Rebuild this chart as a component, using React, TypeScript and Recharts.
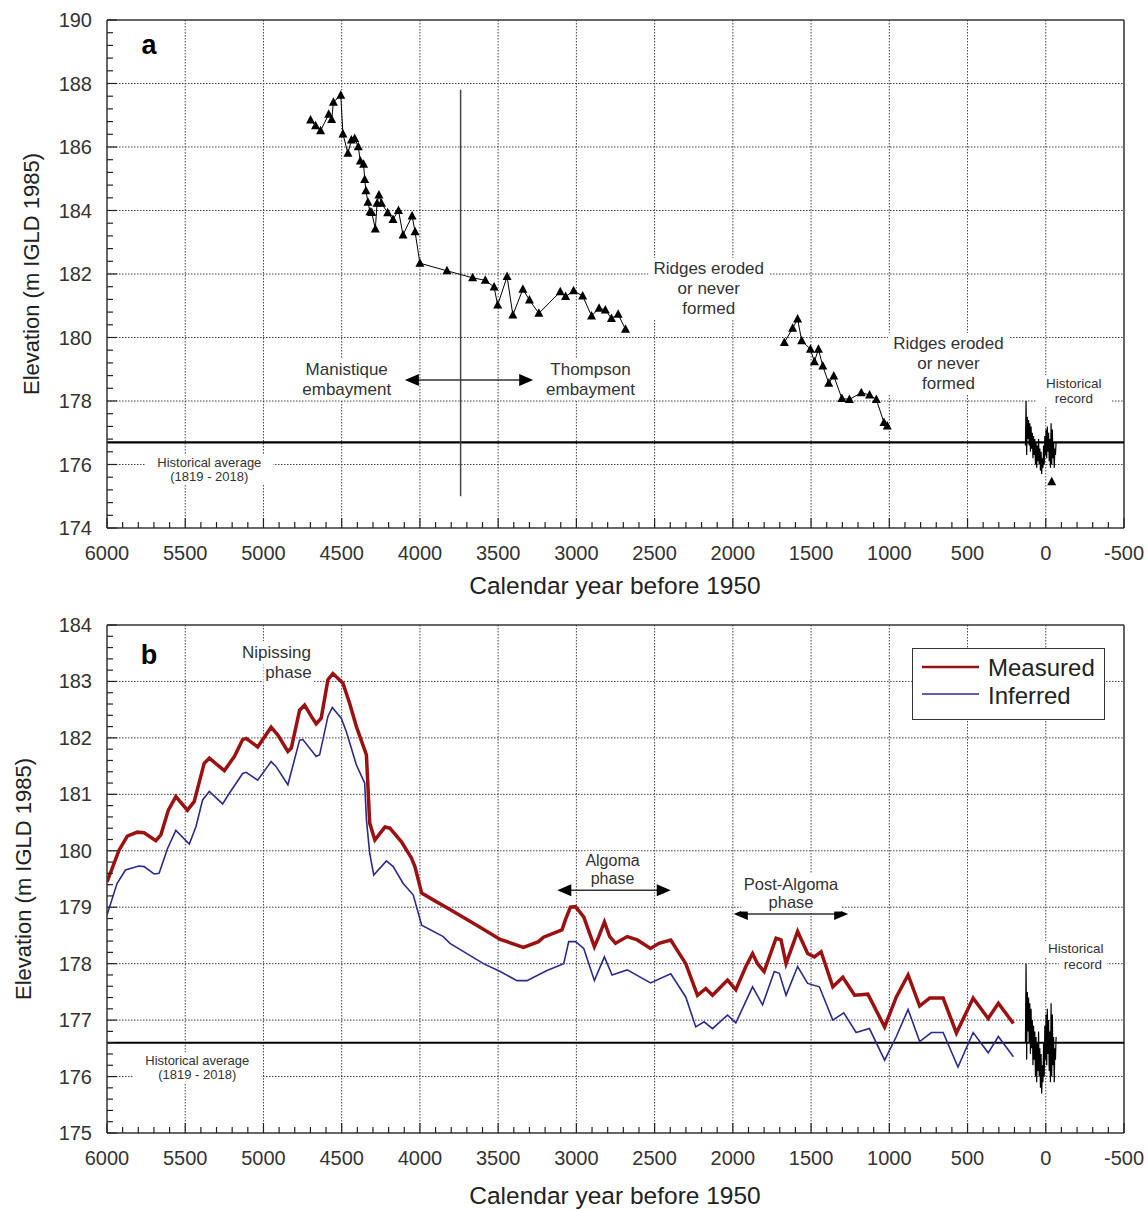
import React from "react";
import { ComposedChart, Line, XAxis, YAxis, CartesianGrid, ReferenceLine, ReferenceDot, Legend } from "recharts";

const FONT = "'Liberation Sans', Arial, Helvetica, sans-serif";

// ---- axis ticks ----
const yearGrid = [5500, 5000, 4500, 4000, 3500, 3000, 2500, 2000, 1500, 1000, 500, 0];
const yearMinor = Array.from({ length: 66 }, (_, i) => 6000 - i * 100);
const elevGridA = [176, 178, 180, 182, 184, 186, 188];
const elevMinorA = Array.from({ length: 41 }, (_, i) => +(174 + i * 0.4).toFixed(1));
const elevGridB = [176, 177, 178, 179, 180, 181, 182, 183];
const elevMinorB = Array.from({ length: 46 }, (_, i) => +(175 + i * 0.2).toFixed(1));

// ---- panel a: beach ridge elevations ----
const ridgesEast = [
  { year: 4699, elev: 186.85 }, { year: 4667, elev: 186.67 }, { year: 4635, elev: 186.51 },
  { year: 4583, elev: 187.03 }, { year: 4564, elev: 186.87 }, { year: 4553, elev: 187.41 },
  { year: 4506, elev: 187.63 }, { year: 4492, elev: 186.41 }, { year: 4460, elev: 185.8 },
  { year: 4438, elev: 186.22 }, { year: 4417, elev: 186.27 }, { year: 4394, elev: 186.01 },
  { year: 4381, elev: 185.56 }, { year: 4360, elev: 185.46 }, { year: 4353, elev: 184.98 },
  { year: 4345, elev: 184.62 }, { year: 4332, elev: 184.26 }, { year: 4319, elev: 183.96 },
  { year: 4308, elev: 183.94 }, { year: 4285, elev: 183.42 }, { year: 4274, elev: 184.23 },
  { year: 4262, elev: 184.49 }, { year: 4246, elev: 184.23 }, { year: 4206, elev: 183.93 },
  { year: 4172, elev: 183.72 }, { year: 4137, elev: 184.0 }, { year: 4108, elev: 183.23 },
  { year: 4050, elev: 183.83 }, { year: 4031, elev: 183.33 }, { year: 4000, elev: 182.34 },
  { year: 3827, elev: 182.1 }, { year: 3663, elev: 181.88 }, { year: 3582, elev: 181.8 },
  { year: 3526, elev: 181.59 }, { year: 3503, elev: 181.02 }, { year: 3443, elev: 181.92 },
  { year: 3406, elev: 180.71 }, { year: 3342, elev: 181.52 }, { year: 3300, elev: 181.18 },
  { year: 3240, elev: 180.76 }, { year: 3103, elev: 181.44 }, { year: 3069, elev: 181.29 },
  { year: 3018, elev: 181.47 }, { year: 2960, elev: 181.31 }, { year: 2903, elev: 180.68 },
  { year: 2855, elev: 180.92 }, { year: 2815, elev: 180.87 }, { year: 2776, elev: 180.6 },
  { year: 2733, elev: 180.73 }, { year: 2686, elev: 180.26 },
];

const ridgesWest = [
  { year: 1671, elev: 179.84 }, { year: 1618, elev: 180.29 }, { year: 1586, elev: 180.58 },
  { year: 1560, elev: 179.9 }, { year: 1504, elev: 179.63 }, { year: 1479, elev: 179.24 },
  { year: 1453, elev: 179.63 }, { year: 1425, elev: 179.1 }, { year: 1387, elev: 178.56 },
  { year: 1355, elev: 178.79 }, { year: 1303, elev: 178.08 }, { year: 1255, elev: 178.05 },
  { year: 1179, elev: 178.26 }, { year: 1126, elev: 178.19 }, { year: 1083, elev: 178.05 },
  { year: 1034, elev: 177.32 }, { year: 1013, elev: 177.21 },
];

const ridgeLow = [{ year: -38, elev: 175.46 }];

// ---- historical gauge record (1819 - 2018) ----
const historical = [
  { year: 130, elev: 176.6 }, { year: 126, elev: 178.0 }, { year: 122, elev: 176.3 }, { year: 118, elev: 177.5 },
  { year: 114, elev: 176.8 }, { year: 110, elev: 177.4 }, { year: 106, elev: 176.6 }, { year: 102, elev: 177.3 },
  { year: 98, elev: 176.4 }, { year: 94, elev: 177.2 }, { year: 90, elev: 176.5 }, { year: 86, elev: 177.0 },
  { year: 82, elev: 176.2 }, { year: 78, elev: 176.9 }, { year: 74, elev: 176.3 }, { year: 70, elev: 176.8 },
  { year: 66, elev: 176.0 }, { year: 62, elev: 176.7 }, { year: 58, elev: 175.9 }, { year: 54, elev: 176.6 },
  { year: 50, elev: 176.1 }, { year: 46, elev: 176.8 }, { year: 42, elev: 176.0 }, { year: 38, elev: 176.5 },
  { year: 34, elev: 175.8 }, { year: 30, elev: 176.4 }, { year: 26, elev: 175.7 }, { year: 22, elev: 176.2 },
  { year: 18, elev: 175.9 }, { year: 14, elev: 176.6 }, { year: 10, elev: 176.0 }, { year: 6, elev: 176.9 },
  { year: 2, elev: 176.3 }, { year: -2, elev: 177.1 }, { year: -6, elev: 176.2 }, { year: -10, elev: 177.2 },
  { year: -14, elev: 176.4 }, { year: -18, elev: 177.0 }, { year: -22, elev: 176.1 }, { year: -26, elev: 176.8 },
  { year: -30, elev: 175.9 }, { year: -34, elev: 177.3 }, { year: -38, elev: 176.0 }, { year: -42, elev: 177.1 },
  { year: -46, elev: 176.2 }, { year: -50, elev: 176.7 }, { year: -54, elev: 175.9 }, { year: -58, elev: 176.5 },
  { year: -62, elev: 176.3 }, { year: -66, elev: 176.7 },
];

// ---- panel b: reconstructed hydrograph ----
const measured = [
  { year: 6000, elev: 179.45 }, { year: 5923, elev: 180.01 }, { year: 5870, elev: 180.26 }, { year: 5806, elev: 180.33 },
  { year: 5763, elev: 180.32 }, { year: 5688, elev: 180.18 }, { year: 5656, elev: 180.28 }, { year: 5608, elev: 180.72 },
  { year: 5560, elev: 180.96 }, { year: 5486, elev: 180.72 }, { year: 5443, elev: 180.87 }, { year: 5379, elev: 181.55 },
  { year: 5346, elev: 181.64 }, { year: 5250, elev: 181.42 }, { year: 5186, elev: 181.67 }, { year: 5133, elev: 181.97 },
  { year: 5111, elev: 181.99 }, { year: 5037, elev: 181.84 }, { year: 4951, elev: 182.19 }, { year: 4908, elev: 182.05 },
  { year: 4844, elev: 181.76 }, { year: 4822, elev: 181.82 }, { year: 4769, elev: 182.49 }, { year: 4737, elev: 182.58 },
  { year: 4694, elev: 182.38 }, { year: 4663, elev: 182.25 }, { year: 4631, elev: 182.35 }, { year: 4588, elev: 183.03 },
  { year: 4556, elev: 183.14 }, { year: 4492, elev: 182.97 }, { year: 4449, elev: 182.61 }, { year: 4406, elev: 182.2 },
  { year: 4342, elev: 181.7 }, { year: 4321, elev: 180.49 }, { year: 4288, elev: 180.19 }, { year: 4224, elev: 180.42 },
  { year: 4192, elev: 180.4 }, { year: 4118, elev: 180.16 }, { year: 4054, elev: 179.87 }, { year: 4032, elev: 179.72 },
  { year: 3989, elev: 179.25 }, { year: 3915, elev: 179.13 }, { year: 3808, elev: 178.96 }, { year: 3637, elev: 178.68 },
  { year: 3487, elev: 178.43 }, { year: 3338, elev: 178.29 }, { year: 3242, elev: 178.39 }, { year: 3210, elev: 178.47 },
  { year: 3092, elev: 178.6 }, { year: 3071, elev: 178.77 }, { year: 3038, elev: 179.0 }, { year: 3006, elev: 179.01 },
  { year: 2953, elev: 178.83 }, { year: 2885, elev: 178.3 }, { year: 2857, elev: 178.48 }, { year: 2821, elev: 178.74 },
  { year: 2787, elev: 178.48 }, { year: 2750, elev: 178.36 }, { year: 2675, elev: 178.48 }, { year: 2611, elev: 178.42 },
  { year: 2526, elev: 178.27 }, { year: 2472, elev: 178.36 }, { year: 2397, elev: 178.42 }, { year: 2301, elev: 178.0 },
  { year: 2226, elev: 177.44 }, { year: 2173, elev: 177.56 }, { year: 2130, elev: 177.44 }, { year: 2034, elev: 177.71 },
  { year: 1981, elev: 177.54 }, { year: 1917, elev: 177.95 }, { year: 1874, elev: 178.18 }, { year: 1842, elev: 178.0 },
  { year: 1800, elev: 177.86 }, { year: 1724, elev: 178.45 }, { year: 1692, elev: 178.42 }, { year: 1660, elev: 178.0 },
  { year: 1586, elev: 178.57 }, { year: 1522, elev: 178.18 }, { year: 1479, elev: 178.12 }, { year: 1436, elev: 178.21 },
  { year: 1361, elev: 177.59 }, { year: 1297, elev: 177.76 }, { year: 1222, elev: 177.44 }, { year: 1137, elev: 177.46 },
  { year: 1030, elev: 176.88 }, { year: 955, elev: 177.41 }, { year: 880, elev: 177.8 }, { year: 806, elev: 177.25 },
  { year: 742, elev: 177.39 }, { year: 656, elev: 177.39 }, { year: 571, elev: 176.77 }, { year: 464, elev: 177.39 },
  { year: 368, elev: 177.03 }, { year: 303, elev: 177.3 }, { year: 207, elev: 176.94 },
];

const inferred = [
  { year: 6000, elev: 178.86 }, { year: 5936, elev: 179.42 }, { year: 5882, elev: 179.66 }, { year: 5796, elev: 179.73 },
  { year: 5763, elev: 179.72 }, { year: 5699, elev: 179.59 }, { year: 5667, elev: 179.6 }, { year: 5613, elev: 180.04 },
  { year: 5560, elev: 180.36 }, { year: 5474, elev: 180.12 }, { year: 5431, elev: 180.43 }, { year: 5389, elev: 180.9 },
  { year: 5346, elev: 181.05 }, { year: 5261, elev: 180.83 }, { year: 5218, elev: 181.02 }, { year: 5133, elev: 181.37 },
  { year: 5111, elev: 181.39 }, { year: 5037, elev: 181.25 }, { year: 4951, elev: 181.58 }, { year: 4919, elev: 181.49 },
  { year: 4844, elev: 181.17 }, { year: 4769, elev: 181.96 }, { year: 4748, elev: 181.97 }, { year: 4663, elev: 181.67 },
  { year: 4641, elev: 181.7 }, { year: 4588, elev: 182.38 }, { year: 4560, elev: 182.54 }, { year: 4503, elev: 182.35 },
  { year: 4470, elev: 182.11 }, { year: 4406, elev: 181.52 }, { year: 4353, elev: 181.2 }, { year: 4342, elev: 180.55 },
  { year: 4321, elev: 179.96 }, { year: 4295, elev: 179.57 }, { year: 4214, elev: 179.82 }, { year: 4171, elev: 179.72 },
  { year: 4107, elev: 179.42 }, { year: 4043, elev: 179.22 }, { year: 3989, elev: 178.68 }, { year: 3851, elev: 178.48 },
  { year: 3808, elev: 178.36 }, { year: 3594, elev: 178.0 }, { year: 3487, elev: 177.86 }, { year: 3380, elev: 177.7 },
  { year: 3316, elev: 177.7 }, { year: 3188, elev: 177.88 }, { year: 3081, elev: 178.0 }, { year: 3049, elev: 178.39 },
  { year: 3006, elev: 178.39 }, { year: 2953, elev: 178.27 }, { year: 2885, elev: 177.7 }, { year: 2821, elev: 178.12 },
  { year: 2772, elev: 177.8 }, { year: 2675, elev: 177.89 }, { year: 2526, elev: 177.66 }, { year: 2397, elev: 177.82 },
  { year: 2301, elev: 177.41 }, { year: 2237, elev: 176.88 }, { year: 2184, elev: 176.97 }, { year: 2130, elev: 176.85 },
  { year: 2034, elev: 177.09 }, { year: 1981, elev: 176.95 }, { year: 1874, elev: 177.59 }, { year: 1810, elev: 177.27 },
  { year: 1735, elev: 177.86 }, { year: 1703, elev: 177.83 }, { year: 1660, elev: 177.44 }, { year: 1586, elev: 177.95 },
  { year: 1522, elev: 177.65 }, { year: 1447, elev: 177.59 }, { year: 1361, elev: 177.0 }, { year: 1291, elev: 177.13 },
  { year: 1212, elev: 176.78 }, { year: 1127, elev: 176.85 }, { year: 1030, elev: 176.29 }, { year: 955, elev: 176.71 },
  { year: 880, elev: 177.19 }, { year: 806, elev: 176.62 }, { year: 731, elev: 176.78 }, { year: 656, elev: 176.78 },
  { year: 561, elev: 176.17 }, { year: 464, elev: 176.78 }, { year: 368, elev: 176.42 }, { year: 303, elev: 176.71 },
  { year: 207, elev: 176.35 },
];

// ---- annotations ----
const notesA = [
  { year: 4468, elev: 178.69, lines: ["Manistique", "embayment"], fs: 17, lh: 20 },
  { year: 2910, elev: 178.69, lines: ["Thompson", "embayment"], fs: 17, lh: 20 },
  { year: 2154, elev: 181.53, lines: ["Ridges eroded", "or never", "formed"], fs: 17, lh: 20 },
  { year: 622, elev: 179.17, lines: ["Ridges eroded", "or never", "formed"], fs: 17, lh: 20 },
  { year: -179, elev: 178.31, lines: ["Historical", "record"], fs: 13.5, lh: 15 },
  { year: 5346, elev: 175.84, lines: ["Historical average", "(1819 - 2018)"], fs: 13, lh: 14 },
];
const notesB = [
  { year: 4917, elev: 183.52, lines: ["Nipissing"], fs: 17, lh: 20 },
  { year: 4840, elev: 183.15, lines: ["phase"], fs: 17, lh: 20 },
  { year: 2769, elev: 179.66, lines: ["Algoma", "phase"], fs: 16, lh: 18 },
  { year: 1628, elev: 179.26, lines: ["Post-Algoma", "phase"], fs: 16.5, lh: 18 },
  { year: -192, elev: 178.26, lines: ["Historical"], fs: 13.5, lh: 14 },
  { year: -237, elev: 177.99, lines: ["record"], fs: 13.5, lh: 14 },
  { year: 5423, elev: 176.16, lines: ["Historical average", "(1819 - 2018)"], fs: 13, lh: 14 },
];
const arrowsA = [{ from: 4096, to: 3276, elev: 178.66 }];
const arrowsB = [
  { from: 3122, to: 2397, elev: 179.3 },
  { from: 1994, to: 1263, elev: 178.88 },
];

// ---- drawing helpers ----
const XTick = (props: any) => {
  const { x, y, payload } = props;
  const v = payload.value;
  const major = v % 500 === 0;
  return (
    <g>
      <line x1={x} x2={x} y1={y} y2={y - (major ? 10 : 6)} stroke="#222" strokeWidth={1.2} />
      {major && (
        <text x={x} y={y + 32} textAnchor="middle" fontSize={20} fill="#333" fontFamily={FONT}>
          {v}
        </text>
      )}
    </g>
  );
};

const makeYTick = (step: number) => (props: any) => {
  const { x, y, payload } = props;
  const v = payload.value;
  const major = Math.abs(v / step - Math.round(v / step)) < 1e-6;
  return (
    <g>
      <line x1={x} x2={x + (major ? 10 : 6)} y1={y} y2={y} stroke="#222" strokeWidth={1.2} />
      {major && (
        <text x={x - 15} y={y + 7} textAnchor="end" fontSize={20} fill="#333" fontFamily={FONT}>
          {v}
        </text>
      )}
    </g>
  );
};

const Tri = (p: any) => {
  const { cx, cy, index } = p;
  return <polygon key={index} points={`${cx},${cy - 5} ${cx - 4.5},${cy + 3.5} ${cx + 4.5},${cy + 3.5}`} fill="#000" />;
};

const noteShape = (lines: string[], fs: number, lh: number) => (p: any) => {
  const { cx, cy } = p;
  const w = Math.max(...lines.map((l) => l.length)) * fs * 0.52 + 6;
  const h = lines.length * lh + 2;
  return (
    <g>
      <rect x={cx - w / 2} y={cy - h / 2} width={w} height={h} fill="#fff" />
      {lines.map((l, i) => (
        <text key={i} x={cx} y={cy + (i - (lines.length - 1) / 2) * lh} textAnchor="middle" dominantBaseline="central"
          fontSize={fs} fill="#333" fontFamily={FONT}>
          {l}
        </text>
      ))}
    </g>
  );
};

const ArrowShape = (p: any) => {
  const { x1, x2, y1 } = p;
  const l = Math.min(x1, x2);
  const r = Math.max(x1, x2);
  return (
    <g>
      <line x1={l + 10} x2={r - 10} y1={y1} y2={y1} stroke="#333" strokeWidth={1.5} />
      <polygon points={`${l},${y1} ${l + 14},${y1 - 6} ${l + 14},${y1 + 6}`} fill="#000" />
      <polygon points={`${r},${y1} ${r - 14},${y1 - 6} ${r - 14},${y1 + 6}`} fill="#000" />
    </g>
  );
};

const titleX = (y: number) => () => (
  <text x={615} y={y} textAnchor="middle" fontSize={24.5} fill="#222" fontFamily={FONT}>
    Calendar year before 1950
  </text>
);
const titleY = (x: number, y: number) => () => (
  <text x={x} y={y} transform={`rotate(-90 ${x} ${y})`} textAnchor="middle" dominantBaseline="central" fontSize={22}
    fill="#222" fontFamily={FONT}>
    Elevation (m IGLD 1985)
  </text>
);

const panelLetter = (letter: string) => (p: any) => (
  <text x={p.cx} y={p.cy} textAnchor="middle" dominantBaseline="central" fontSize={27} fontWeight="bold" fill="#000"
    fontFamily={FONT}>
    {letter}
  </text>
);

const LegendBox = () => (
  <div style={{ width: 193, height: 72, border: "1.5px solid #333", background: "#fff", boxSizing: "border-box", position: "relative", fontFamily: FONT }}>
    <svg width={190} height={70} style={{ position: "absolute", left: 0, top: 0 }}>
      <line x1={9} x2={66} y1={18} y2={18} stroke="#9b1111" strokeWidth={2.5} />
      <line x1={9} x2={66} y1={45} y2={45} stroke="#2b2b8c" strokeWidth={1.5} />
      <text x={75} y={27} fontSize={24} fill="#222" fontFamily={FONT}>Measured</text>
      <text x={75} y={55} fontSize={24} fill="#222" fontFamily={FONT}>Inferred</text>
    </svg>
  </div>
);

function PanelA() {
  return (
    <ComposedChart width={1148} height={600} margin={{ top: 20, right: 24, bottom: 0, left: 7 }}>
      <CartesianGrid horizontalValues={elevGridA} verticalValues={yearGrid} stroke="#444" strokeDasharray="1.5 1.5" />
      <XAxis type="number" dataKey="year" domain={[-500, 6000]} reversed ticks={yearMinor} interval={0} height={72}
        tickSize={0} tickMargin={0} tick={XTick} axisLine={{ stroke: "#333", strokeWidth: 1.5 }} tickLine={false}
        allowDataOverflow label={{ content: titleX(594) }} />
      <YAxis type="number" dataKey="elev" domain={[174, 190]} ticks={elevMinorA} interval={0} width={100}
        tickSize={0} tickMargin={0} tick={makeYTick(2)} axisLine={{ stroke: "#333", strokeWidth: 1.5 }} tickLine={false}
        allowDataOverflow label={{ content: titleY(31, 274) }} />
      <ReferenceLine y={190} stroke="#333" strokeWidth={1.5} />
      <ReferenceLine x={-500} stroke="#333" strokeWidth={1.5} />
      {notesA.map((n, i) => (
        <ReferenceDot key={"na" + i} x={n.year} y={n.elev} r={0} shape={noteShape(n.lines, n.fs, n.lh)} />
      ))}
      <ReferenceDot x={5731} y={189.2} r={0} shape={panelLetter("a")} />
      <ReferenceLine y={176.7} stroke="#000" strokeWidth={2.2} />
      <ReferenceLine segment={[{ x: 3740, y: 175 }, { x: 3740, y: 187.8 }]} stroke="#444" strokeWidth={1.5} />
      {arrowsA.map((a, i) => (
        <ReferenceLine key={"aa" + i} segment={[{ x: a.from, y: a.elev }, { x: a.to, y: a.elev }]} shape={ArrowShape} />
      ))}
      <Line data={ridgesEast} dataKey="elev" type="linear" stroke="#000" strokeWidth={1} dot={Tri} activeDot={false}
        isAnimationActive={false} />
      <Line data={ridgesWest} dataKey="elev" type="linear" stroke="#000" strokeWidth={1} dot={Tri} activeDot={false}
        isAnimationActive={false} />
      <Line data={historical} dataKey="elev" type="linear" stroke="#000" strokeWidth={1.2} dot={false} activeDot={false}
        isAnimationActive={false} />
      <Line data={ridgeLow} dataKey="elev" type="linear" stroke="#000" dot={Tri} activeDot={false}
        isAnimationActive={false} />
    </ComposedChart>
  );
}

function PanelB() {
  return (
    <ComposedChart width={1148} height={609} margin={{ top: 25, right: 24, bottom: 0, left: 7 }}>
      <CartesianGrid horizontalValues={elevGridB} verticalValues={yearGrid} stroke="#444" strokeDasharray="1.5 1.5" />
      <XAxis type="number" dataKey="year" domain={[-500, 6000]} reversed ticks={yearMinor} interval={0} height={76}
        tickSize={0} tickMargin={0} tick={XTick} axisLine={{ stroke: "#333", strokeWidth: 1.5 }} tickLine={false}
        allowDataOverflow label={{ content: titleX(604) }} />
      <YAxis type="number" dataKey="elev" domain={[175, 184]} ticks={elevMinorB} interval={0} width={100}
        tickSize={0} tickMargin={0} tick={makeYTick(1)} axisLine={{ stroke: "#333", strokeWidth: 1.5 }} tickLine={false}
        allowDataOverflow label={{ content: titleY(23, 279) }} />
      <ReferenceLine y={184} stroke="#333" strokeWidth={1.5} />
      <ReferenceLine x={-500} stroke="#333" strokeWidth={1.5} />
      {notesB.map((n, i) => (
        <ReferenceDot key={"nb" + i} x={n.year} y={n.elev} r={0} shape={noteShape(n.lines, n.fs, n.lh)} />
      ))}
      <ReferenceDot x={5731} y={183.47} r={0} shape={panelLetter("b")} />
      <ReferenceLine y={176.6} stroke="#000" strokeWidth={2} />
      {arrowsB.map((a, i) => (
        <ReferenceLine key={"ab" + i} segment={[{ x: a.from, y: a.elev }, { x: a.to, y: a.elev }]} shape={ArrowShape} />
      ))}
      <Line data={historical} dataKey="elev" type="linear" stroke="#000" strokeWidth={1.2} dot={false} activeDot={false}
        isAnimationActive={false} />
      <Line data={inferred} dataKey="elev" name="Inferred" type="linear" stroke="#2b2b8c" strokeWidth={1.6} dot={false}
        activeDot={false} isAnimationActive={false} />
      <Line data={measured} dataKey="elev" name="Measured" type="linear" stroke="#9b1111" strokeWidth={3.5} dot={false}
        activeDot={false} isAnimationActive={false} />
      <Legend layout="vertical" align="center" verticalAlign="middle" content={() => <LegendBox />}
        wrapperStyle={{ left: 912, top: 48, width: 193 }} />
    </ComposedChart>
  );
}

export default function App() {
  return (
    <div style={{ position: "absolute", left: 0, top: 0, width: 1148, height: 1209, background: "#fff", fontFamily: FONT }}>
      <div style={{ position: "absolute", left: 0, top: 0 }}>
        <PanelA />
      </div>
      <div style={{ position: "absolute", left: 0, top: 600 }}>
        <PanelB />
      </div>
    </div>
  );
}
